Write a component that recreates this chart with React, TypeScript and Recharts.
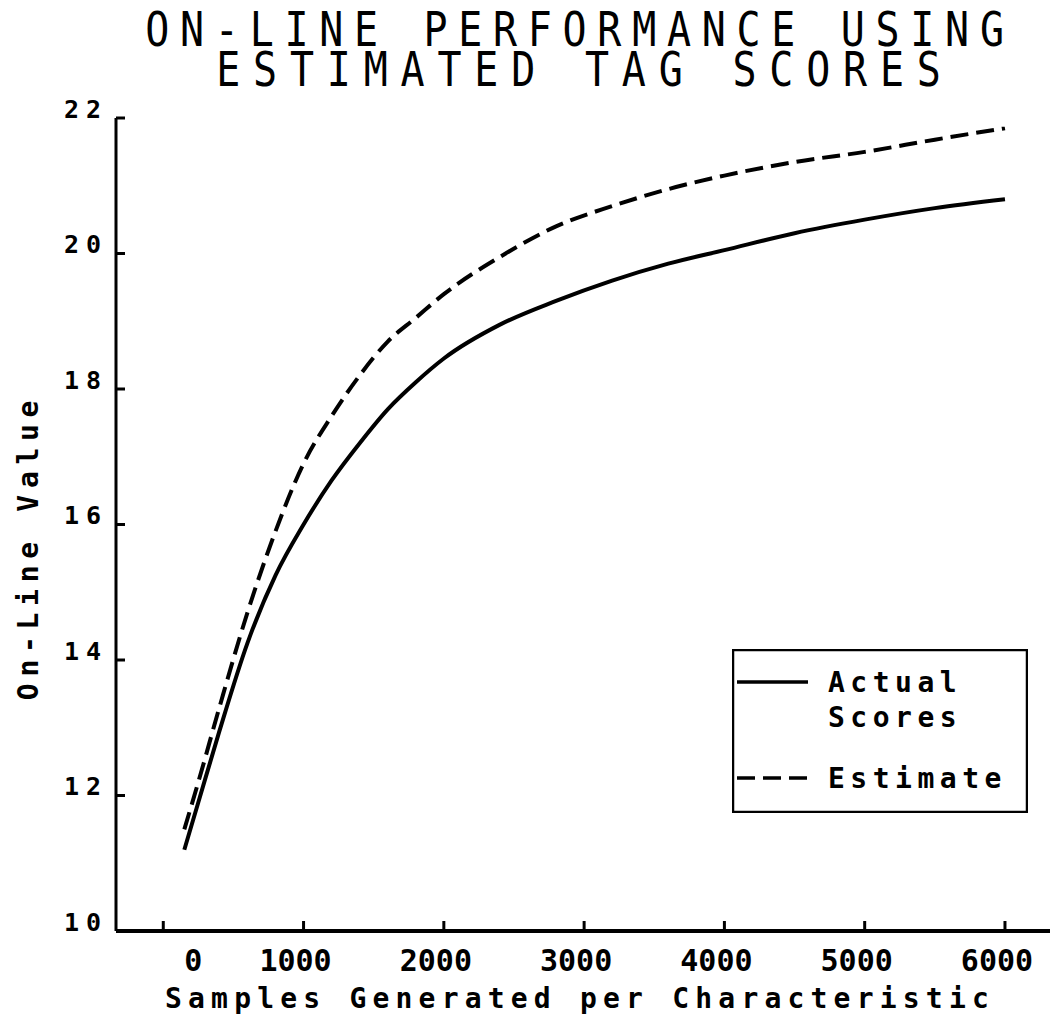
import React from 'react';
import { Legend, Line, LineChart, XAxis, YAxis } from 'recharts';

const samples = [150, 250, 400, 600, 800, 1000, 1200, 1400, 1600, 1800, 2000, 2400, 2800, 3200, 3600, 4000, 4500, 5000, 5500, 6000];
const actualScores = [11.2, 11.9, 12.95, 14.25, 15.25, 16.0, 16.65, 17.2, 17.7, 18.1, 18.45, 18.95, 19.3, 19.6, 19.85, 20.05, 20.3, 20.5, 20.67, 20.8];
const estimateScores = [11.5, 12.2, 13.3, 14.7, 15.9, 16.9, 17.6, 18.2, 18.7, 19.05, 19.4, 19.95, 20.4, 20.7, 20.95, 21.15, 21.35, 21.5, 21.68, 21.85];

const xTicks = [0, 1000, 2000, 3000, 4000, 5000, 6000];
const yTicks = [10, 12, 14, 16, 18, 20, 22];

const data = samples.map((s, i) => ({ samples: s, actual: actualScores[i], estimate: estimateScores[i] }));

const FONT = '"DejaVu Sans Mono", monospace';

function XTick(props: any) {
    const { x, y, payload } = props;
    const dx = payload.value === 0 ? 30 : -8;
    return (
        <g>
            <line x1={x} x2={x} y1={y} y2={y - 10} stroke="#000" strokeWidth={3} />
            <text x={x + dx} y={y + 40} textAnchor="middle" fontFamily={FONT} fontWeight="bold" fontSize={30} fill="#000">
                {payload.value}
            </text>
        </g>
    );
}

function YTick(props: any) {
    const { x, y, payload } = props;
    return (
        <g>
            <line x1={x} x2={x + 9} y1={y} y2={y} stroke="#000" strokeWidth={3} />
            <text x={x - 8} y={y - 9} dy="0.35em" textAnchor="end" fontFamily={FONT} fontWeight="bold" fontSize={25} letterSpacing={7} fill="#000">
                {payload.value}
            </text>
        </g>
    );
}

function LegendBox() {
    const txt = { fontFamily: FONT, fontWeight: 'bold' as const, fontSize: 28, letterSpacing: 5.5, fill: '#000' };
    return (
        <svg width={296} height={164} style={{ display: 'block' }}>
            <rect x={1} y={1} width={294} height={162} fill="#fff" stroke="#000" strokeWidth={2.5} />
            <line x1={5} x2={76} y1={33} y2={33} stroke="#000" strokeWidth={3.5} />
            <text x={96} y={43} {...txt}>Actual</text>
            <text x={96} y={78} {...txt}>Scores</text>
            <line x1={5} x2={76} y1={129} y2={129} stroke="#000" strokeWidth={3.5} strokeDasharray="18 8" />
            <text x={96} y={139} {...txt}>Estimate</text>
        </svg>
    );
}

export default function App() {
    return (
        <div style={{ position: 'absolute', left: 0, top: 0, width: 1058, height: 1021, background: '#fff' }}>
            <svg width={1058} height={110} style={{ position: 'absolute', left: 0, top: 0 }}>
                <g transform="translate(0,46) scale(1,1.18)">
                    <text x={580} y={0} textAnchor="middle" fontFamily={FONT} fontSize={40} letterSpacing={10.7} fill="#000">
                        ON-LINE PERFORMANCE USING
                    </text>
                </g>
                <g transform="translate(0,86) scale(1,1.18)">
                    <text x={585} y={0} textAnchor="middle" fontFamily={FONT} fontSize={40} letterSpacing={12.8} fill="#000">
                        ESTIMATED TAG SCORES
                    </text>
                </g>
            </svg>
            <div style={{ position: 'absolute', left: 0, top: 0 }}>
                <LineChart width={1058} height={1021} data={data} margin={{ top: 118, right: 8, bottom: 30, left: 56 }}>
                    <XAxis
                        dataKey="samples"
                        type="number"
                        domain={[-337, 6321]}
                        ticks={xTicks}
                        height={60}
                        tickSize={0}
                        tickMargin={0}
                        tickLine={false}
                        axisLine={{ stroke: '#000', strokeWidth: 4 }}
                        tick={<XTick />}
                        allowDataOverflow
                    />
                    <XAxis
                        xAxisId="top"
                        orientation="top"
                        type="number"
                        domain={[-337, 6321]}
                        height={0}
                        tick={false}
                        tickLine={false}
                        axisLine={{ stroke: '#000', strokeWidth: 4 }}
                    />
                    <YAxis
                        type="number"
                        domain={[10, 22]}
                        ticks={yTicks}
                        width={60}
                        tickSize={0}
                        tickMargin={0}
                        tickLine={false}
                        axisLine={{ stroke: '#000', strokeWidth: 3 }}
                        tick={<YTick />}
                    />
                    <YAxis
                        yAxisId="right"
                        orientation="right"
                        width={0}
                        tick={false}
                        tickLine={false}
                        axisLine={{ stroke: '#000', strokeWidth: 2.5 }}
                    />
                    <Line type="monotone" dataKey="actual" stroke="#000" strokeWidth={4} dot={false} isAnimationActive={false} />
                    <Line type="monotone" dataKey="estimate" stroke="#000" strokeWidth={4} strokeDasharray="18 8" dot={false} isAnimationActive={false} />
                    <Legend
                        layout="vertical"
                        align="center"
                        verticalAlign="middle"
                        content={<LegendBox />}
                        wrapperStyle={{ position: 'absolute', left: 732, top: 649, width: 296, height: 164 }}
                    />
                </LineChart>
            </div>
            <svg width={1058} height={1021} style={{ position: 'absolute', left: 0, top: 0, pointerEvents: 'none' }}>
                <text x={580} y={1008} textAnchor="middle" fontFamily={FONT} fontWeight="bold" fontSize={28} letterSpacing={6.2} fill="#000">
                    Samples Generated per Characteristic
                </text>
                <text transform="translate(38,547) rotate(-90)" textAnchor="middle" fontFamily={FONT} fontWeight="bold" fontSize={28} letterSpacing={6.7} fill="#000">
                    On-Line Value
                </text>
            </svg>
        </div>
    );
}
